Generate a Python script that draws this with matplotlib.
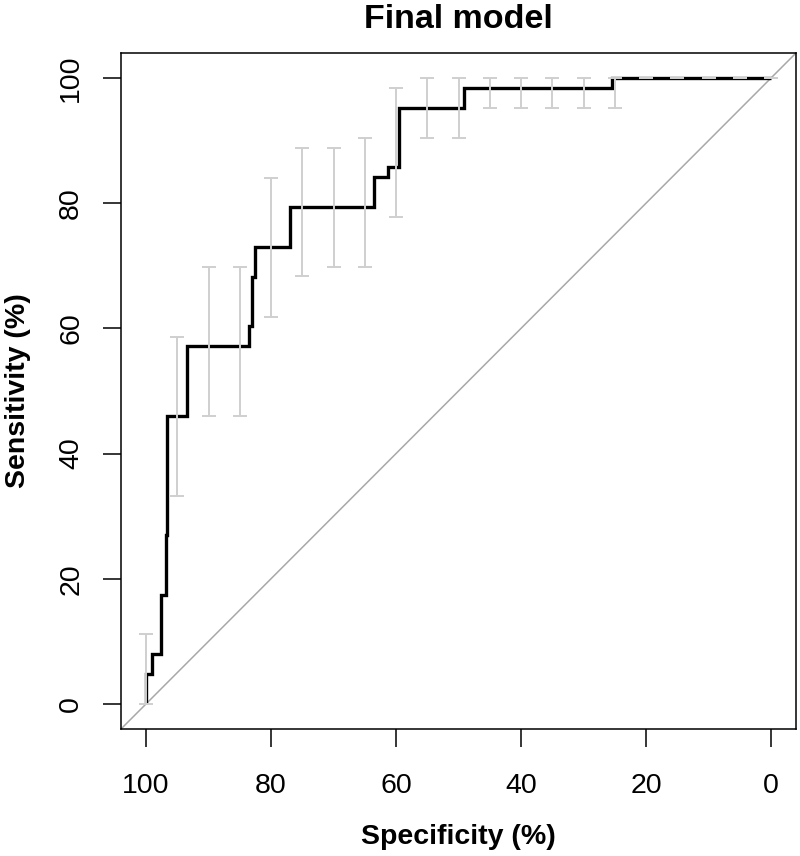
import matplotlib
matplotlib.use("Agg")
import matplotlib.pyplot as plt
from matplotlib.transforms import IdentityTransform

# ROC curve corner points (specificity %, sensitivity %)
roc_spec = [100, 100, 99.1, 99.1, 97.6, 97.6, 96.8, 96.8, 96.7, 96.7, 93.4, 93.4,
            83.6, 83.6, 83.0, 83.0, 82.5, 82.5, 77.0, 77.0, 63.6, 63.6, 61.3, 61.3,
            59.6, 59.6, 49.2, 49.2, 25.4, 25.4, 0]
roc_sens = [0, 4.76, 4.76, 7.94, 7.94, 17.46, 17.46, 26.98, 26.98, 46.03, 46.03, 57.14,
            57.14, 60.32, 60.32, 68.25, 68.25, 73.02, 73.02, 79.37, 79.37, 84.13, 84.13, 85.71,
            85.71, 95.24, 95.24, 98.41, 98.41, 100, 100]

# Confidence intervals of sensitivity at given specificities
ci_spec = [100, 95, 90, 85, 80, 75, 70, 65, 60, 55, 50, 45, 40, 35, 30, 25, 20, 15, 10, 5, 0]
ci_low = [0, 33.3, 46.0, 46.0, 61.9, 68.3, 69.8, 69.8, 77.8, 90.5, 90.5, 95.2, 95.2, 95.2,
          95.2, 95.2, 100, 100, 100, 100, 100]
ci_high = [11.1, 58.7, 69.8, 69.8, 84.1, 88.9, 88.9, 90.5, 98.4, 100, 100, 100, 100, 100,
           100, 100, 100, 100, 100, 100, 100]

x_ticks = [100, 80, 60, 40, 20, 0]
y_ticks = [0, 20, 40, 60, 80, 100]

plt.rcParams['font.family'] = ['Liberation Sans', 'DejaVu Sans']

W, H = 800, 856
fig = plt.figure(figsize=(W / 100, H / 100), dpi=100)
ax = fig.add_axes([121 / W, (H - 729) / H, 675 / W, 676 / H])

ax.set_xlim(104, -4)
ax.set_ylim(-4, 104)

# identity line
ax.plot([104, -4], [-4, 104], color='#A8A8A8', lw=1.1, zorder=1)

# ROC curve
ax.plot(roc_spec, roc_sens, color='black', lw=2.4, zorder=2,
        solid_joinstyle='miter', solid_capstyle='butt')

# CI bars
mid = [(l + h) / 2 for l, h in zip(ci_low, ci_high)]
err = [(h - l) / 2 for l, h in zip(ci_low, ci_high)]
ax.errorbar(ci_spec, mid, yerr=err, fmt='none', ecolor='#CFCFCF', elinewidth=1.4,
            capsize=4.8, capthick=1.4, zorder=3)

ax.set_xticks(x_ticks)
ax.set_xticklabels([str(v) for v in x_ticks])
ax.set_yticks(y_ticks)
ax.set_yticklabels([str(v) for v in y_ticks], rotation=90, va='center')

for sp in ax.spines.values():
    sp.set_linewidth(1.1)
ax.tick_params(axis='both', length=13, width=1.1, labelsize=20.5, color='black')
ax.tick_params(axis='x', pad=18.5)
ax.tick_params(axis='y', pad=13.5)

tr = IdentityTransform()
def px(x, y):
    return x, H - y

fig.text(*px(458, 28), 'Final model', transform=tr, ha='center', va='baseline',
         fontsize=24.5, fontweight='bold')
fig.text(*px(458, 844), 'Specificity (%)', transform=tr, ha='center', va='baseline',
         fontsize=20.5, fontweight='bold')
fig.text(*px(25, 391), 'Sensitivity (%)', transform=tr, ha='center', va='baseline',
         fontsize=20.5, fontweight='bold', rotation=90, rotation_mode='anchor')

fig.savefig('out.png', dpi=100)
